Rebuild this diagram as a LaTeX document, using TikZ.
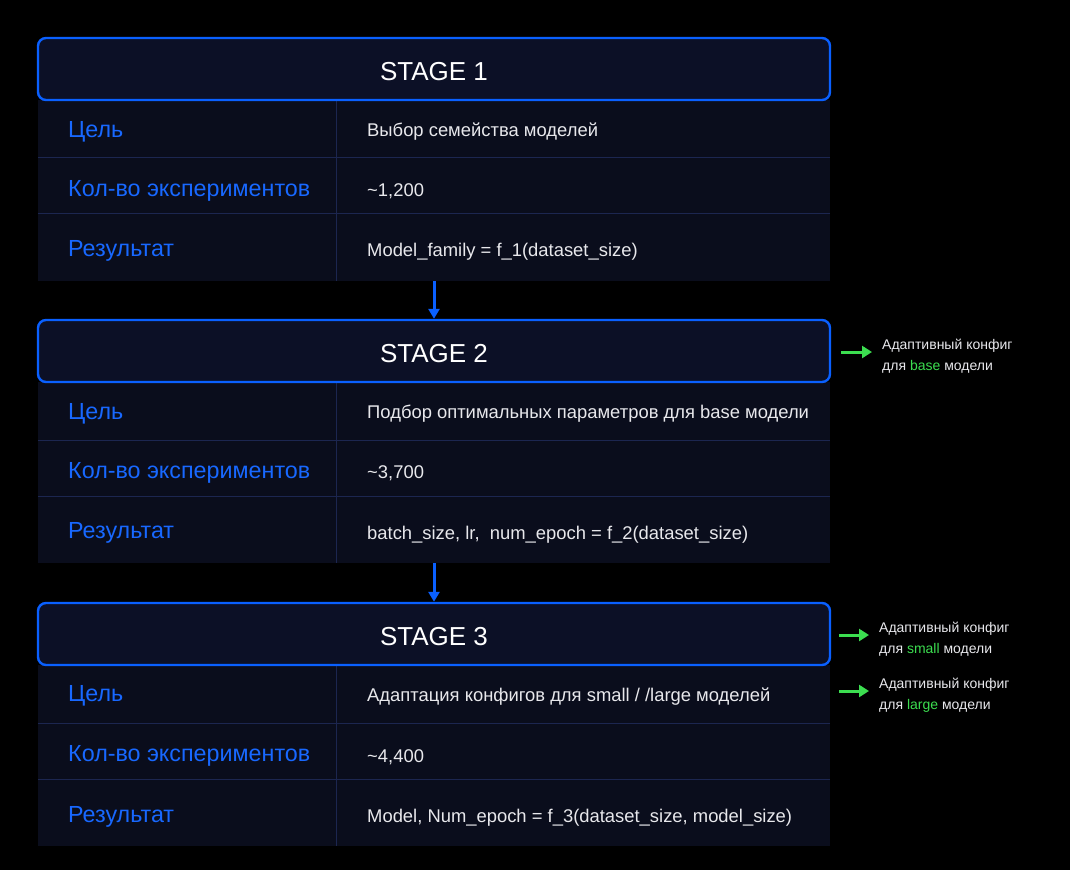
\documentclass[tikz,border=0pt]{standalone}
\usepackage{fontspec}
\setmainfont{Liberation Sans}
\usetikzlibrary{arrows.meta}
\definecolor{bgblack}{RGB}{0,0,0}
\definecolor{headfill}{RGB}{12,16,38}
\definecolor{rowfill}{RGB}{10,13,28}
\definecolor{gridline}{RGB}{28,38,80}
\definecolor{stageblue}{RGB}{10,96,255}
\definecolor{labelblue}{RGB}{24,104,255}
\definecolor{notegreen}{RGB}{60,222,80}
\definecolor{textwhite}{RGB}{232,232,236}
\tikzstyle{stage} = [rectangle,
rounded corners=8pt,
minimum width=792pt,
minimum height=62pt,
text height=22pt,
text depth=0pt,
draw=stageblue,
line width=2.4pt,
fill=headfill,
text=white,
font=\fontsize{26}{30}\selectfont]
\tikzstyle{tablebox} = [rectangle,
minimum width=792pt,
minimum height=181pt,
inner sep=0pt,
fill=rowfill]
\tikzstyle{label} = [anchor=west, inner sep=0pt, text=labelblue, font=\fontsize{23.3}{28}\selectfont]
\tikzstyle{value} = [anchor=west, inner sep=0pt, text=textwhite, font=\fontsize{18.4}{22}\selectfont]
\tikzstyle{note} = [anchor=west, inner sep=0pt, align=left, text=textwhite, font=\fontsize{14}{21}\selectfont]
\tikzstyle{arrow} = [line width=3pt, draw=stageblue, -{Triangle[length=10pt,width=11pt]}]
\tikzstyle{garrow} = [line width=3pt, draw=notegreen, -{Triangle[length=10pt,width=12pt]}, shorten >=10pt]

\begin{document}
\begin{tikzpicture}[x=1pt, y=-1pt]
\fill[bgblack] (0,0) rectangle (1070,870);
\useasboundingbox (0,0) rectangle (1070,870);
% stage 1
\node (t1) [tablebox] at (434,190.5) {};
\draw[gridline, line width=1pt] (38,157) -- (830,157) (38,213) -- (830,213) (336,100) -- (336,281);
\node (s1) [stage] at (434,69) {STAGE 1};
\node (l11) [label] at (68,132) {Цель};
\node (l12) [label] at (68,191) {Кол-во экспериментов};
\node (l13) [label] at (68,251) {Результат};
\node (v11) [value] at (367,132) {Выбор семейства моделей};
\node (v12) [value] at (367,191) {\char`~1,200};
\node (v13) [value] at (367,252) {Model\_family = f\_1(dataset\_size)};
% stage 2
\node (t2) [tablebox] at (434,472.5) {};
\draw[gridline, line width=1pt] (38,440) -- (830,440) (38,496) -- (830,496) (336,382) -- (336,563);
\node (s2) [stage] at (434,351) {STAGE 2};
\node (l21) [label] at (68,414) {Цель};
\node (l22) [label] at (68,473) {Кол-во экспериментов};
\node (l23) [label] at (68,533) {Результат};
\node (v21) [value] at (367,414) {Подбор оптимальных параметров для base модели};
\node (v22) [value] at (367,473) {\char`~3,700};
\node (v23) [value] at (367,535) {batch\_size, lr, \ num\_epoch = f\_2(dataset\_size)};
% stage 3
\node (t3) [tablebox] at (434,755.5) {};
\draw[gridline, line width=1pt] (38,723) -- (830,723) (38,779) -- (830,779) (336,665) -- (336,846);
\node (s3) [stage] at (434,634) {STAGE 3};
\node (l31) [label] at (68,696) {Цель};
\node (l32) [label] at (68,756) {Кол-во экспериментов};
\node (l33) [label] at (68,817) {Результат};
\node (v31) [value] at (367,697) {Адаптация конфигов для small / /large моделей};
\node (v32) [value] at (367,757) {\char`~4,400};
\node (v33) [value] at (367,818) {Model, Num\_epoch = f\_3(dataset\_size, model\_size)};
% flow
\draw [arrow] (t1.south) -- (s2.north);
\draw [arrow] (t2.south) -- (s3.north);
% notes
\node (n2) [note] at (882,356) {Адаптивный конфиг\\для \textcolor{notegreen}{base} модели};
\node (n3a) [note] at (879,639) {Адаптивный конфиг\\для \textcolor{notegreen}{small} модели};
\node (n3b) [note] at (879,695) {Адаптивный конфиг\\для \textcolor{notegreen}{large} модели};
\coordinate (c2) at (841,352);
\coordinate (c3a) at (839,635);
\coordinate (c3b) at (839,691);
\draw [garrow] (c2) -- (n2.west |- c2);
\draw [garrow] (c3a) -- (n3a.west |- c3a);
\draw [garrow] (c3b) -- (n3b.west |- c3b);
\end{tikzpicture}
\end{document}
